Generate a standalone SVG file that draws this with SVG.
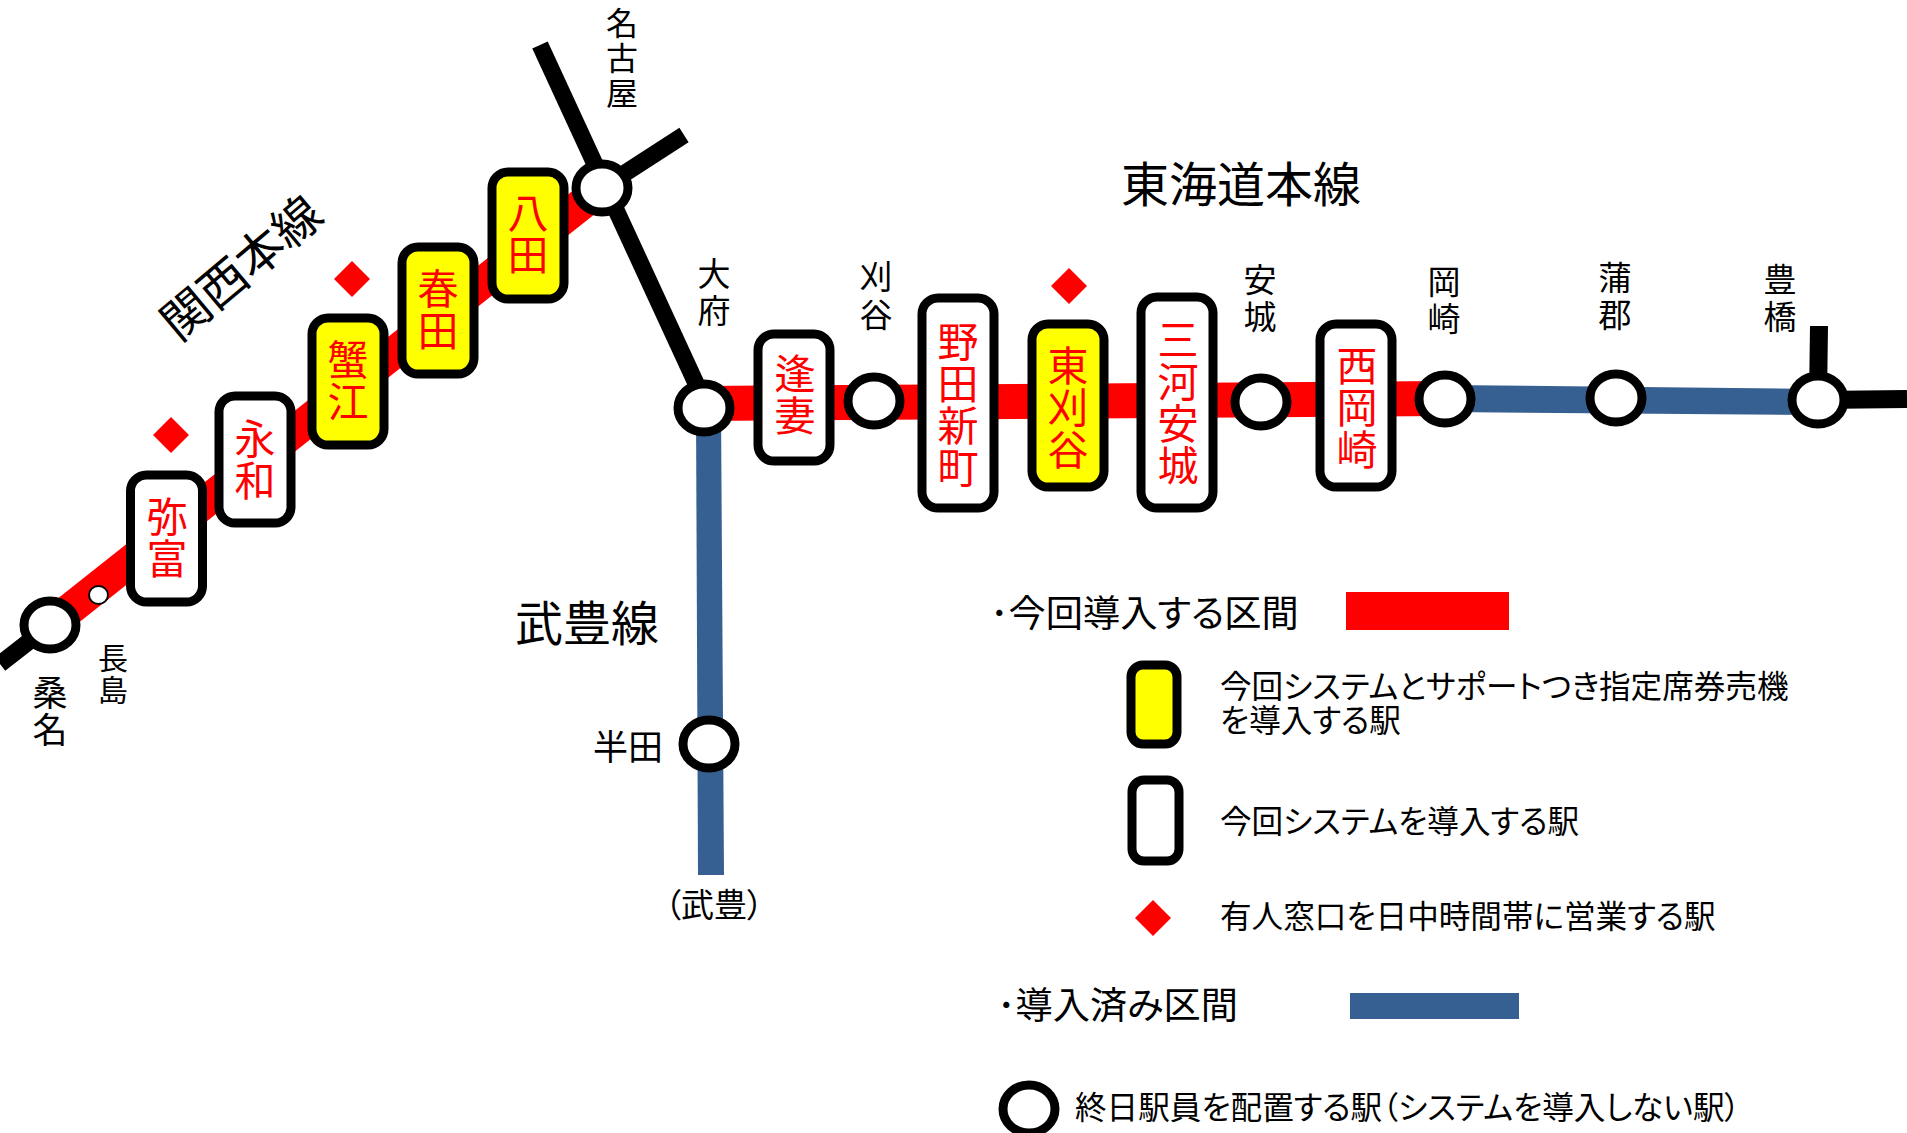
<svg xmlns="http://www.w3.org/2000/svg" width="1907" height="1133" viewBox="0 0 1907 1133">
<style>
text{font-family:"Noto Sans CJK JP","Noto Sans CJK SC",sans-serif;dominant-baseline:central;fill:#000}
.c{text-anchor:middle}
.r{fill:#f00;font-size:41px;text-anchor:middle}
.s{font-size:33px;text-anchor:middle}
.t{font-size:48px;text-anchor:middle}
.l{font-size:31.600px;font-feature-settings:"palt"}
.h{font-size:37.200px;font-feature-settings:"palt"}
.b{fill:#fff;stroke:#000;stroke-width:9}
.y{fill:#ff0;stroke:#000;stroke-width:9}
.st{fill:#fff;stroke:#000;stroke-width:9}
.d{fill:#f00}
.k{fill:none;stroke:#000;stroke-width:17}
</style>
<rect width="1907" height="1133" fill="#fff"/>
<g id="connectors">
<line class="k" x1="540" y1="45" x2="700" y2="392"/>
<line class="k" x1="602" y1="188" x2="684" y2="135"/>
<line class="k" x1="50" y1="625" x2="0" y2="664"/>
<line class="k" x1="1818" y1="400" x2="1819" y2="326" style="stroke-width:18"/>
<line class="k" x1="1818" y1="400" x2="1907" y2="399" style="stroke-width:18"/>
<line x1="50" y1="625" x2="602" y2="188" stroke="#f00" stroke-width="32"/>
<polygon points="704,386 1445,381 1445,416 704,421" fill="#f00"/>
<polygon points="1445,385 1818,389 1818,415 1445,412" fill="#376092"/>
<polygon points="696,408 721,408 724,875 698,875" fill="#376092"/>
</g>
<g id="st-kuwana"><ellipse class="st" cx="50" cy="625" rx="26" ry="24"/><text class="c" x="50" y="690" style="font-size:35px"><tspan x="50">桑</tspan><tspan x="50" dy="37">名</tspan></text></g>
<g id="st-nagashima"><ellipse cx="98.500" cy="595" rx="9.500" ry="9" fill="#fff" stroke="#000" stroke-width="2"/><text class="c" style="font-size:30px" x="113" y="656"><tspan x="113">長</tspan><tspan x="113" dy="32">島</tspan></text></g>
<g id="st-yatomi"><rect class="b" x="130.500" y="475" width="72" height="127" rx="16"/><text class="r" x="167" y="514"><tspan x="167">弥</tspan><tspan x="167" dy="42">富</tspan></text></g>
<g id="st-eiwa"><rect class="b" x="219" y="396" width="72" height="127" rx="16"/><text class="r" x="255" y="436"><tspan x="255">永</tspan><tspan x="255" dy="42">和</tspan></text></g>
<g id="st-kanie"><rect class="y" x="312" y="318" width="72" height="127" rx="16"/><text class="r" x="348" y="357"><tspan x="348">蟹</tspan><tspan x="348" dy="42">江</tspan></text></g>
<g id="st-haruta"><rect class="y" x="402" y="247" width="72" height="127" rx="16"/><text class="r" x="438" y="286"><tspan x="438">春</tspan><tspan x="438" dy="42">田</tspan></text></g>
<g id="st-hatta"><rect class="y" x="492" y="172" width="72" height="127" rx="16"/><text class="r" x="528" y="210"><tspan x="528">八</tspan><tspan x="528" dy="42">田</tspan></text></g>
<g id="st-nagoya"><ellipse class="st" cx="602" cy="188" rx="26" ry="24"/><text class="s" style="font-size:32px" x="622" y="21"><tspan x="622">名</tspan><tspan x="622" dy="35">古</tspan><tspan x="622" dy="35">屋</tspan></text></g>
<g id="st-obu"><ellipse class="st" cx="704" cy="408" rx="26" ry="24"/><text class="s" x="714" y="272"><tspan x="714">大</tspan><tspan x="714" dy="37">府</tspan></text></g>
<g id="st-aizuma"><rect class="b" x="758" y="334" width="72" height="127" rx="16"/><text class="r" x="795" y="371"><tspan x="795">逢</tspan><tspan x="795" dy="42">妻</tspan></text></g>
<g id="st-kariya"><ellipse class="st" cx="874" cy="401" rx="26" ry="24"/><text class="s" x="876" y="275"><tspan x="876">刈</tspan><tspan x="876" dy="38">谷</tspan></text></g>
<g id="st-nodashinmachi"><rect class="b" x="922" y="298" width="72" height="210" rx="16"/><text class="r" x="958" y="339"><tspan x="958">野</tspan><tspan x="958" dy="42">田</tspan><tspan x="958" dy="42">新</tspan><tspan x="958" dy="42">町</tspan></text></g>
<g id="st-higashikariya"><rect class="y" x="1032" y="324" width="72" height="163" rx="16"/><text class="r" x="1068" y="363"><tspan x="1068">東</tspan><tspan x="1068" dy="42">刈</tspan><tspan x="1068" dy="42">谷</tspan></text></g>
<g id="st-mikawaanjo"><rect class="b" x="1141" y="297" width="72" height="211" rx="16"/><text class="r" x="1178" y="337"><tspan x="1178">三</tspan><tspan x="1178" dy="42">河</tspan><tspan x="1178" dy="42">安</tspan><tspan x="1178" dy="42">城</tspan></text></g>
<g id="st-anjo"><ellipse class="st" cx="1261" cy="402" rx="26" ry="24"/><text class="s" x="1260" y="278"><tspan x="1260">安</tspan><tspan x="1260" dy="37">城</tspan></text></g>
<g id="st-nishiokazaki"><rect class="b" x="1320" y="324" width="72" height="163" rx="16"/><text class="r" x="1357" y="363"><tspan x="1357">西</tspan><tspan x="1357" dy="42">岡</tspan><tspan x="1357" dy="42">崎</tspan></text></g>
<g id="st-okazaki"><ellipse class="st" cx="1445" cy="399" rx="26" ry="24"/><text class="s" x="1444" y="280"><tspan x="1444">岡</tspan><tspan x="1444" dy="37">崎</tspan></text></g>
<g id="st-gamagori"><ellipse class="st" cx="1616" cy="398" rx="26" ry="24"/><text class="s" x="1615" y="276"><tspan x="1615">蒲</tspan><tspan x="1615" dy="37">郡</tspan></text></g>
<g id="st-toyohashi"><ellipse class="st" cx="1818" cy="400" rx="26" ry="24"/><text class="s" x="1780" y="278"><tspan x="1780">豊</tspan><tspan x="1780" dy="37">橋</tspan></text></g>
<g id="st-handa"><ellipse class="st" cx="709" cy="744" rx="26" ry="24"/><text class="c" style="font-size:35px" x="628" y="744">半田</text></g>
<g id="lbl-taketoyo"><text class="c" style="font-size:33px;font-feature-settings:'palt'" x="714" y="903">（武豊）</text></g>
<g id="diamonds">
<polygon class="d" points="171,417 189,435 171,453 153,435"/>
<polygon class="d" points="352,261 370,279 352,297 334,279"/>
<polygon class="d" points="1069,268 1087,286 1069,304 1051,286"/>
</g>
<g id="line-names">
<text class="t" x="1241" y="181">東海道本線</text>
<text class="t" x="587" y="620">武豊線</text>
<text class="t" transform="translate(239 265) rotate(-40)">関西本線</text>
</g>
<g id="legend">
<text class="h" x="990" y="611">･今回導入する区間</text>
<rect x="1346" y="592" width="163" height="38" fill="#f00"/>
<rect class="y" x="1131" y="665" width="46" height="79" rx="12"/>
<text class="l" x="1220" y="684">今回システムとサポートつき指定席券売機</text>
<text class="l" x="1220" y="718">を導入する駅</text>
<rect class="b" x="1132" y="780" width="47" height="81" rx="12"/>
<text class="l" x="1220" y="819">今回システムを導入する駅</text>
<polygon class="d" points="1153,900 1171,918 1153,936 1135,918"/>
<text class="l" x="1220" y="914">有人窓口を日中時間帯に営業する駅</text>
<text class="h" x="997" y="1003">･導入済み区間</text>
<rect x="1350" y="993" width="169" height="26" fill="#376092"/>
<ellipse class="st" cx="1029" cy="1109" rx="26" ry="24"/>
<text class="l" x="1075" y="1105">終日駅員を配置する駅（システムを導入しない駅）</text>
</g>
</svg>
